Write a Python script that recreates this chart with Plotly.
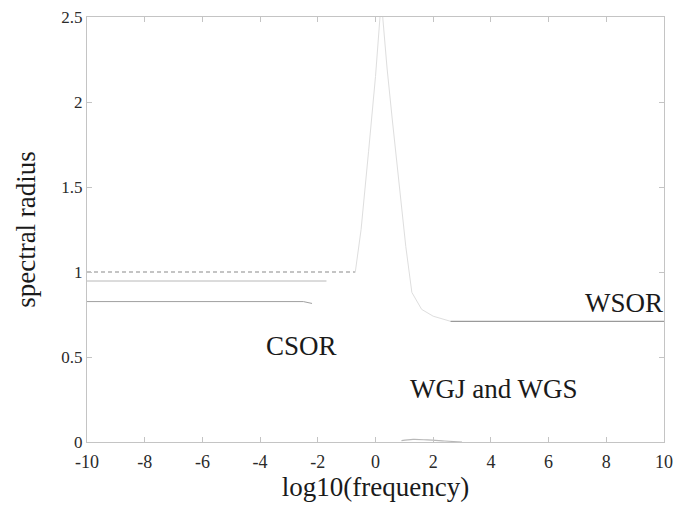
import plotly.graph_objects as go

# ---- data ----
wgj_flat_x = [-10, -0.7]
wgj_flat_y = [1.0, 1.0]

peak_x = [-0.7, -0.5, -0.24, 0.0, 0.2, 0.4, 0.58, 0.8, 1.05, 1.26, 1.6, 2.0, 2.6]
peak_y = [1.0, 1.25, 1.71, 2.15, 2.6, 2.2, 1.9, 1.55, 1.15, 0.88, 0.78, 0.74, 0.71]

wsor_x = [2.6, 10]
wsor_y = [0.71, 0.71]

wgj_tail_x = [0.9, 1.3, 1.8, 2.4, 3.0]
wgj_tail_y = [0.008, 0.015, 0.012, 0.006, 0.0]

csor_hi_x = [-10, -1.7]
csor_hi_y = [0.947, 0.947]

csor_lo_x = [-10, -2.5, -2.2]
csor_lo_y = [0.826, 0.826, 0.815]

labels = [("CSOR", -2.55, 0.567), ("WSOR", 8.6, 0.82), ("WGJ and WGS", 4.1, 0.31)]

x_ticks = [-10, -8, -6, -4, -2, 0, 2, 4, 6, 8, 10]
y_ticks = [0, 0.5, 1, 1.5, 2, 2.5]
y_tick_text = ["0", "0.5", "1", "1.5", "2", "2.5"]

FONT = "Liberation Serif, Times New Roman, serif"

fig = go.Figure()
fig.add_trace(go.Scatter(x=wgj_flat_x, y=wgj_flat_y, mode="lines",
                         line=dict(color="#8a8a8a", width=1.2, dash="4px,3px")))
fig.add_trace(go.Scatter(x=peak_x, y=peak_y, mode="lines",
                         line=dict(color="#dedede", width=1)))
fig.add_trace(go.Scatter(x=wsor_x, y=wsor_y, mode="lines",
                         line=dict(color="#9a9a9a", width=1.2)))
fig.add_trace(go.Scatter(x=wgj_tail_x, y=wgj_tail_y, mode="lines",
                         line=dict(color="#b8b8b8", width=1.2, shape="spline")))
fig.add_trace(go.Scatter(x=csor_hi_x, y=csor_hi_y, mode="lines",
                         line=dict(color="#b8b8b8", width=1)))
fig.add_trace(go.Scatter(x=csor_lo_x, y=csor_lo_y, mode="lines",
                         line=dict(color="#a0a0a0", width=1)))

for text, x, y in labels:
    fig.add_annotation(x=x, y=y, text=text, showarrow=False,
                       font=dict(family=FONT, size=27, color="#1a1a1a"))

axis_common = dict(showgrid=False, zeroline=False, showline=True,
                   linecolor="#c4c4c4", linewidth=1, mirror="ticks",
                   ticks="inside", ticklen=5, tickcolor="#c4c4c4")

fig.update_layout(
    width=681, height=506,
    margin=dict(l=87, r=8, t=13, b=64),
    paper_bgcolor="white", plot_bgcolor="white",
    showlegend=False,
    xaxis=dict(range=[-10, 10], tickvals=x_ticks, ticktext=[str(v) for v in x_ticks],
               ticklabelstandoff=3,
               tickfont=dict(family=FONT, size=18, color="#2a2a2a"),
               title=dict(text="log10(frequency)", standoff=6,
                          font=dict(family=FONT, size=27, color="#1a1a1a")),
               **axis_common),
    yaxis=dict(range=[0, 2.5], tickvals=y_ticks, ticktext=y_tick_text,
               tickfont=dict(family=FONT, size=17, color="#2a2a2a"),
               title=dict(text="spectral radius", standoff=17,
                          font=dict(family=FONT, size=27, color="#1a1a1a")),
               **axis_common),
)

fig.write_html("out.html")
